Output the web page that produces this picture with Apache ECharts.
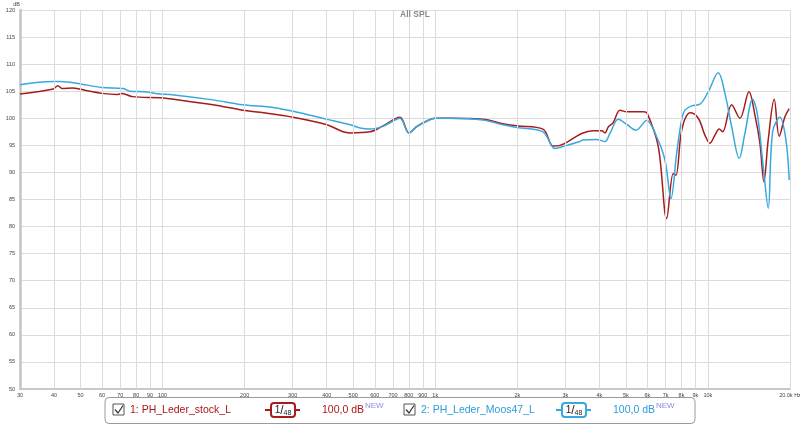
<!DOCTYPE html>
<html>
<head>
<meta charset="utf-8">
<script src="https://cdn.jsdelivr.net/npm/echarts@6/dist/echarts.min.js"></script>
<style>html,body{margin:0;padding:0;background:#fff}#c{width:800px;height:425px}</style>
</head>
<body>
<div id="c"></div>
<script>
// ---- data ----
const seriesNames = ['1: PH_Leder_stock_L', '2: PH_Leder_Moos47_L'];
const smoothingLabel = ['1', '48'];
const levelLabels = ['100,0 dB', '100,0 dB'];
const chartTitle = 'All SPL';

const freqRed = [30, 39.7, 41.3, 42.8, 46.9, 52.8, 59.9, 68, 71, 77.5, 97.9, 106.4, 153, 197, 228, 301, 401, 459, 487, 576, 643, 742, 801, 857, 932, 998, 1132, 1496, 1771, 1994, 2483, 2702, 2867, 3444, 3798, 4077, 4192, 4311, 4494, 4758, 5034, 5792, 5991, 6574, 7059, 7461, 7633, 7941, 8133, 8355, 8600, 9217, 9751, 10171, 10611, 11001, 11321, 12216, 13104, 14139, 14873, 15512, 16049, 16638, 17502, 18257, 19163, 19866];
const splRed = [104.5, 105.4, 106.0, 105.5, 105.6, 105.1, 104.6, 104.4, 104.6, 104.0, 103.8, 103.6, 102.5, 101.5, 101.1, 100.2, 98.8, 97.5, 97.3, 97.5, 98.6, 100.2, 97.3, 98.5, 99.5, 100.0, 100.0, 99.8, 99.0, 98.6, 98.0, 94.9, 95.0, 97.2, 97.7, 97.7, 97.3, 98.4, 99.2, 101.5, 101.2, 101.2, 100.9, 94.8, 81.5, 89.8, 89.5, 96.6, 99.1, 100.5, 101.0, 100.0, 96.9, 95.4, 96.9, 98.0, 97.5, 102.5, 100.0, 104.9, 100.6, 95.4, 88.3, 96.0, 103.5, 96.7, 100.3, 101.8];

const freqBlue = [30, 39.7, 41.5, 46.4, 50.5, 59.8, 71.8, 76, 86.2, 97.9, 106.4, 153, 197, 254, 301, 401, 487, 530, 576, 643, 700, 742, 801, 857, 932, 998, 1132, 1496, 1771, 1994, 2483, 2750, 2900, 3393, 3470, 3907, 4192, 4372, 4690, 5034, 5445, 5961, 6486, 6957, 7318, 7678, 8010, 8236, 8716, 9352, 10027, 10911, 11544, 12216, 13026, 13668, 14590, 15167, 15954, 16638, 17268, 18366, 19325, 19866];
const splBlue = [106.2, 106.8, 106.8, 106.6, 106.3, 105.7, 105.5, 105.0, 104.9, 104.5, 104.4, 103.4, 102.5, 102.0, 101.3, 99.8, 98.8, 98.2, 98.0, 98.5, 99.5, 100.0, 97.3, 98.5, 99.5, 100.0, 100.0, 99.7, 98.8, 98.3, 97.5, 94.4, 94.7, 95.7, 96.0, 96.1, 95.7, 97.2, 99.8, 98.9, 97.8, 99.6, 96.6, 92.3, 85.2, 93.5, 99.7, 101.5, 102.3, 102.6, 104.9, 108.4, 104.6, 98.5, 92.6, 97.2, 103.5, 100.9, 91.1, 83.4, 97.5, 100.2, 96.0, 88.6];

const gridFreqs = [30, 40, 50, 60, 70, 80, 90, 100, 200, 300, 400, 500, 600, 700, 800, 900, 1000, 2000, 3000, 4000, 5000, 6000, 7000, 8000, 9000, 10000, 20000];
const gridLabels = ['30', '40', '50', '60', '70', '80', '90', '100', '200', '300', '400', '500', '600', '700', '800', '900', '1k', '2k', '3k', '4k', '5k', '6k', '7k', '8k', '9k', '10k', '20.0k Hz'];

// ---- styles ----
const RED = '#a61c1c';
const BLUE = '#38a8e0';
const RED_T = '#a81818';
const BLUE_T = '#2b9ddc';

const pairs = (f, v) => f.map((x, i) => [x, v[i]]);
const labelMap = {};
gridFreqs.forEach((f, i) => labelMap[f] = gridLabels[i]);

const chart = echarts.init(document.getElementById('c'), null, {renderer: 'canvas'});

function legendItem(x0, color, textColor, idx) {
  const cy = 410;
  return [
    {type: 'rect', shape: {x: x0, y: cy - 6, width: 11, height: 11}, style: {fill: '#fff', stroke: '#555', lineWidth: 1}},
    {type: 'polyline', shape: {points: [[x0 + 2, cy - 0.5], [x0 + 5, cy + 3], [x0 + 10, cy - 4.5]]}, style: {stroke: '#333', lineWidth: 1.2, fill: null}},
    {type: 'text', x: x0 + 17, y: cy, style: {text: seriesNames[idx], fill: textColor, font: '10.5px "Liberation Sans", Arial, sans-serif', verticalAlign: 'middle'}},
    {type: 'line', shape: {x1: x0 + 152, y1: cy, x2: x0 + 187, y2: cy}, style: {stroke: color, lineWidth: 2}},
    {type: 'rect', shape: {x: x0 + 158, y: cy - 7, width: 24, height: 14, r: 3}, style: {fill: '#fff', stroke: color, lineWidth: 2}},
    {type: 'text', x: x0 + 170, y: cy + 1, style: {
      text: '{a|' + smoothingLabel[0] + '}{b|/}{c|' + smoothingLabel[1] + '}',
      align: 'center', verticalAlign: 'middle',
      rich: {
        a: {fontSize: 10, fill: '#222', fontFamily: 'Liberation Sans', verticalAlign: 'top'},
        b: {fontSize: 12, fill: '#222', fontFamily: 'Liberation Sans'},
        c: {fontSize: 7, fill: '#222', fontFamily: 'Liberation Sans', padding: [4, 0, 0, 0]}
      }
    }},
    {type: 'text', x: x0 + 209, y: cy, style: {text: levelLabels[idx], fill: textColor, font: '10.5px "Liberation Sans", Arial, sans-serif', verticalAlign: 'middle'}},
    {type: 'text', x: x0 + 252, y: cy - 4, style: {text: 'NEW', fill: '#8c8ce6', font: '8px "Liberation Sans", Arial, sans-serif', verticalAlign: 'middle'}}
  ];
}

const option = {
  animation: false,
  backgroundColor: '#fff',
  title: {
    text: chartTitle, left: 410, top: 5, textAlign: 'center',
    textStyle: {color: '#8a8a8a', fontSize: 8.5, fontWeight: 'bold', fontFamily: 'Liberation Sans, Arial, sans-serif'}
  },
  grid: {left: 20, right: 10, top: 10, bottom: 36, containLabel: false, outerBoundsMode: 'none'},
  xAxis: {
    type: 'log', logBase: 10, min: 30, max: 20000,
    axisLine: {show: true, lineStyle: {color: '#c8c8c8', width: 2}},
    axisTick: {show: false},
    splitLine: {show: false},
    axisLabel: {
      customValues: gridFreqs, fontSize: 5.5, color: '#444', margin: 3,
      formatter: v => labelMap[Math.round(v)] !== undefined ? labelMap[Math.round(v)] : ''
    }
  },
  yAxis: {
    type: 'value', min: 50, max: 120, interval: 5,
    name: 'dB', nameLocation: 'end', nameGap: 2,
    nameTextStyle: {fontSize: 5.5, color: '#444', align: 'right', padding: [0, 0, 0, 0]},
    axisLine: {show: true, lineStyle: {color: '#c4c4c4', width: 2.5}},
    axisTick: {show: false},
    axisLabel: {fontSize: 5.5, color: '#444', margin: 5},
    splitLine: {show: true, lineStyle: {color: '#dcdcdc', width: 1}}
  },
  series: [
    {
      type: 'line', name: 'grid', data: [[30, 50]], symbol: 'none', silent: true, z: 1,
      lineStyle: {width: 0},
      markLine: {
        silent: true, symbol: 'none', label: {show: false},
        lineStyle: {color: '#dcdcdc', width: 1, type: 'solid'},
        data: gridFreqs.slice(1).map(f => ({xAxis: f}))
      }
    },
    {
      type: 'line', name: seriesNames[0], data: pairs(freqRed, splRed),
      showSymbol: false, symbol: 'none', smooth: 0.35, z: 3,
      lineStyle: {color: RED, width: 1.5}
    },
    {
      type: 'line', name: seriesNames[1], data: pairs(freqBlue, splBlue),
      showSymbol: false, symbol: 'none', smooth: 0.35, z: 4,
      lineStyle: {color: BLUE, width: 1.5}
    }
  ],
  graphic: [
    {type: 'rect', shape: {x: 105, y: 397.5, width: 590, height: 26, r: 4}, style: {fill: '#fff', stroke: '#9a9a9a', lineWidth: 1}, z: 10},
    ...legendItem(113, RED, RED_T, 0).map(g => Object.assign(g, {z: 11})),
    ...legendItem(404, BLUE, BLUE_T, 1).map(g => Object.assign(g, {z: 11}))
  ]
};
chart.setOption(option);
</script>
</body>
</html>
